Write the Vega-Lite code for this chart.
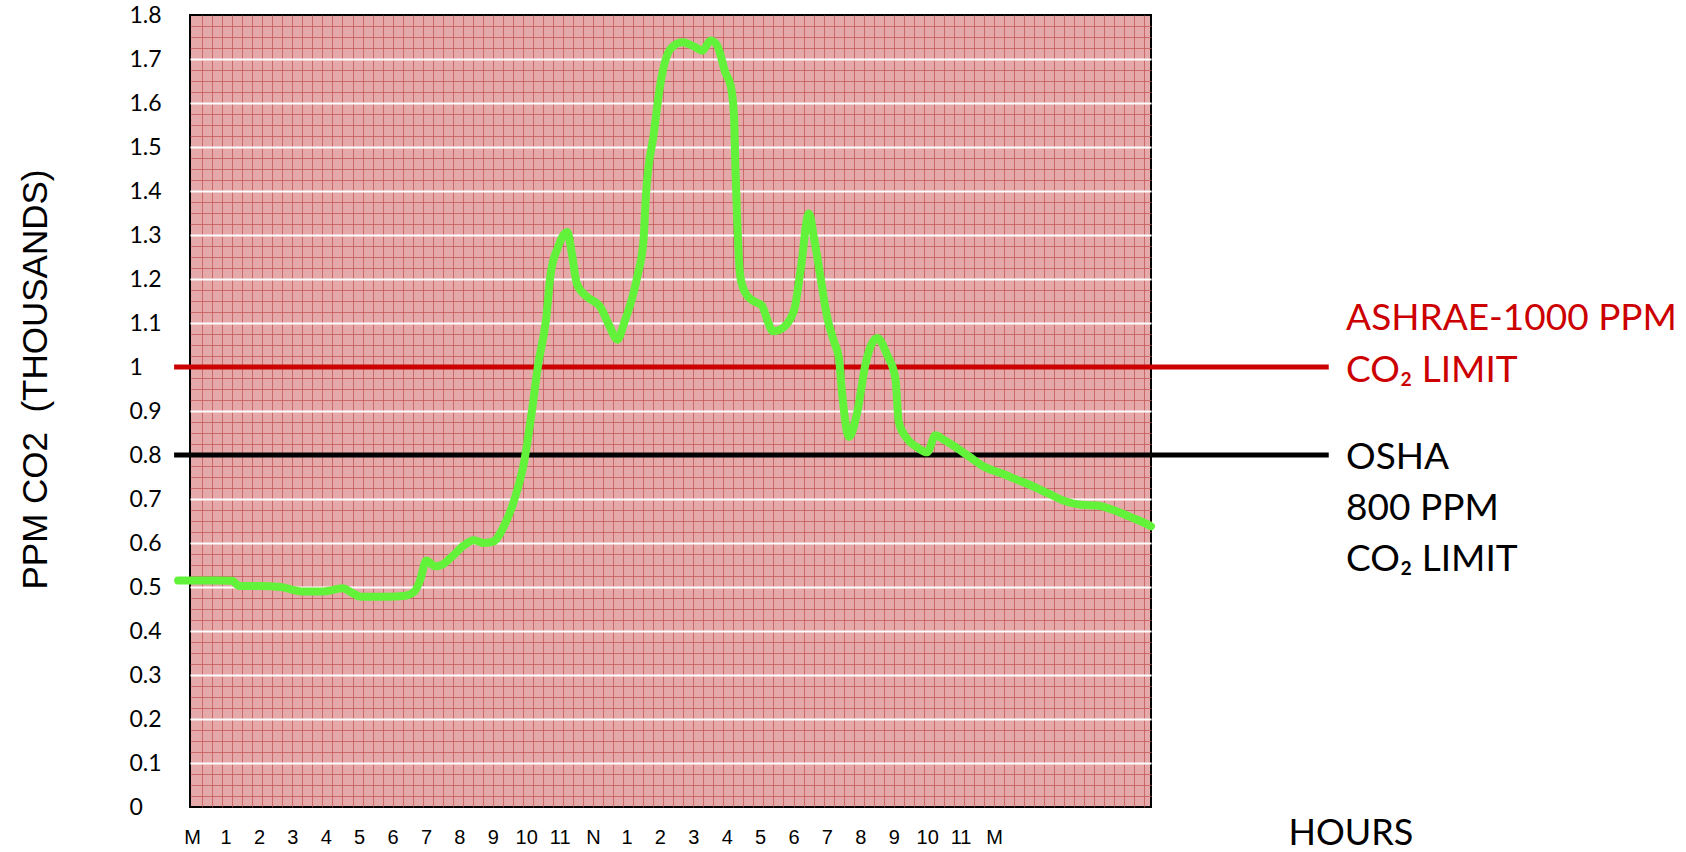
{
  "$schema": "https://vega.github.io/schema/vega-lite/v6.json",
  "autosize": {"type": "none"},
  "width": 961,
  "height": 792,
  "padding": {"left": 190, "top": 15, "right": 535, "bottom": 45},
  "background": "white",
  "config": {
    "view": {"fill": "#E5A9A9", "stroke": "#000000", "strokeWidth": 2},
    "font": "Lato"
  },
  "datasets": {
    "co2": [
      {"hour": -0.42, "ppm": 0.515}, {"hour": -0.06, "ppm": 0.515}, {"hour": 0.71, "ppm": 0.515},
      {"hour": 1.19, "ppm": 0.514}, {"hour": 1.42, "ppm": 0.502}, {"hour": 2.0, "ppm": 0.502},
      {"hour": 2.64, "ppm": 0.5}, {"hour": 3.28, "ppm": 0.49}, {"hour": 3.93, "ppm": 0.49},
      {"hour": 4.51, "ppm": 0.497}, {"hour": 4.76, "ppm": 0.488}, {"hour": 5.05, "ppm": 0.478},
      {"hour": 5.86, "ppm": 0.478}, {"hour": 6.37, "ppm": 0.48}, {"hour": 6.66, "ppm": 0.49},
      {"hour": 6.82, "ppm": 0.515}, {"hour": 7.01, "ppm": 0.56}, {"hour": 7.27, "ppm": 0.547},
      {"hour": 7.47, "ppm": 0.55}, {"hour": 7.79, "ppm": 0.57}, {"hour": 8.11, "ppm": 0.593},
      {"hour": 8.43, "ppm": 0.606}, {"hour": 8.75, "ppm": 0.6}, {"hour": 9.01, "ppm": 0.603},
      {"hour": 9.33, "ppm": 0.638}, {"hour": 9.65, "ppm": 0.7}, {"hour": 9.94, "ppm": 0.786},
      {"hour": 10.14, "ppm": 0.884}, {"hour": 10.36, "ppm": 1.007}, {"hour": 10.59, "ppm": 1.106},
      {"hour": 10.73, "ppm": 1.211}, {"hour": 10.94, "ppm": 1.27}, {"hour": 11.23, "ppm": 1.307},
      {"hour": 11.36, "ppm": 1.26}, {"hour": 11.52, "ppm": 1.188}, {"hour": 11.81, "ppm": 1.16},
      {"hour": 12.23, "ppm": 1.135}, {"hour": 12.48, "ppm": 1.095}, {"hour": 12.73, "ppm": 1.062},
      {"hour": 12.93, "ppm": 1.1}, {"hour": 13.32, "ppm": 1.204}, {"hour": 13.51, "ppm": 1.288},
      {"hour": 13.58, "ppm": 1.387}, {"hour": 13.82, "ppm": 1.532}, {"hour": 14.02, "ppm": 1.646},
      {"hour": 14.32, "ppm": 1.723}, {"hour": 14.67, "ppm": 1.738}, {"hour": 15.03, "ppm": 1.728},
      {"hour": 15.27, "ppm": 1.719}, {"hour": 15.52, "ppm": 1.742}, {"hour": 15.72, "ppm": 1.73},
      {"hour": 15.96, "ppm": 1.669}, {"hour": 16.12, "ppm": 1.639}, {"hour": 16.22, "ppm": 1.57},
      {"hour": 16.26, "ppm": 1.455}, {"hour": 16.31, "ppm": 1.341}, {"hour": 16.41, "ppm": 1.204},
      {"hour": 16.57, "ppm": 1.167}, {"hour": 16.8, "ppm": 1.15}, {"hour": 17.05, "ppm": 1.14},
      {"hour": 17.25, "ppm": 1.1}, {"hour": 17.38, "ppm": 1.081}, {"hour": 17.6, "ppm": 1.085},
      {"hour": 18.01, "ppm": 1.127}, {"hour": 18.21, "ppm": 1.219}, {"hour": 18.46, "ppm": 1.349},
      {"hour": 18.61, "ppm": 1.295}, {"hour": 18.81, "ppm": 1.203}, {"hour": 19.01, "ppm": 1.112},
      {"hour": 19.21, "ppm": 1.058}, {"hour": 19.36, "ppm": 1.02}, {"hour": 19.46, "ppm": 0.936},
      {"hour": 19.66, "ppm": 0.841}, {"hour": 19.91, "ppm": 0.898}, {"hour": 20.15, "ppm": 1.005},
      {"hour": 20.51, "ppm": 1.066}, {"hour": 20.8, "ppm": 1.028}, {"hour": 21.05, "ppm": 0.974},
      {"hour": 21.15, "ppm": 0.875}, {"hour": 21.4, "ppm": 0.837}, {"hour": 21.69, "ppm": 0.818},
      {"hour": 22.0, "ppm": 0.806}, {"hour": 22.25, "ppm": 0.845}, {"hour": 22.49, "ppm": 0.835},
      {"hour": 22.75, "ppm": 0.823}, {"hour": 23.23, "ppm": 0.798}, {"hour": 23.71, "ppm": 0.773},
      {"hour": 24.2, "ppm": 0.759}, {"hour": 24.68, "ppm": 0.744}, {"hour": 25.16, "ppm": 0.729},
      {"hour": 25.64, "ppm": 0.712}, {"hour": 26.13, "ppm": 0.695}, {"hour": 26.61, "ppm": 0.687},
      {"hour": 27.09, "ppm": 0.685}, {"hour": 27.57, "ppm": 0.675}, {"hour": 28.06, "ppm": 0.66},
      {"hour": 28.38, "ppm": 0.65}, {"hour": 28.7, "ppm": 0.638}
    ],
    "limits": [
      {"limit": "ASHRAE", "ppm": 1.0},
      {"limit": "OSHA", "ppm": 0.8}
    ],
    "notes": [
      {"label": "ASHRAE-1000 PPM", "ppm": 1.109, "limit": "ASHRAE"},
      {"label": "CO₂ LIMIT", "ppm": 0.991, "limit": "ASHRAE"},
      {"label": "OSHA", "ppm": 0.793, "limit": "OSHA"},
      {"label": "800 PPM", "ppm": 0.677, "limit": "OSHA"},
      {"label": "CO₂ LIMIT", "ppm": 0.561, "limit": "OSHA"}
    ]
  },
  "resolve": {"axis": {"x": "independent", "y": "independent"}},
  "layer": [
    {
      "data": {"name": "limits"},
      "mark": {"type": "rule", "strokeWidth": 5},
      "encoding": {
        "x": {
          "datum": -0.54,
          "type": "quantitative",
          "scale": {"domain": [-0.064, 28.7], "nice": false, "zero": false},
          "axis": {
            "orient": "top",
            "labels": false, "ticks": false, "domain": false, "title": null,
            "grid": true, "gridColor": "#C25656", "gridWidth": 1, "gridOpacity": 0.75,
            "values": [0.3,0.6,0.9,1.2,1.5,1.8,2.1,2.4,2.7,3.0,3.3,3.6,3.9,4.2,4.5,4.8,5.1,5.4,5.7,6.0,6.3,6.6,6.9,7.2,7.5,7.8,8.1,8.4,8.7,9.0,9.3,9.6,9.9,10.2,10.5,10.8,11.1,11.4,11.7,12.0,12.3,12.6,12.9,13.2,13.5,13.8,14.1,14.4,14.7,15.0,15.3,15.6,15.9,16.2,16.5,16.8,17.1,17.4,17.7,18.0,18.3,18.6,18.9,19.2,19.5,19.8,20.1,20.4,20.7,21.0,21.3,21.6,21.9,22.2,22.5,22.8,23.1,23.4,23.7,24.0,24.3,24.6,24.9,25.2,25.5,25.8,26.1,26.4,26.7,27.0,27.3,27.6,27.9,28.2,28.5]
          }
        },
        "x2": {"datum": 34.02},
        "y": {
          "field": "ppm",
          "type": "quantitative",
          "scale": {"domain": [0, 1.8], "nice": false, "zero": true},
          "axis": {
            "orient": "right",
            "labels": false, "ticks": false, "domain": false, "title": null,
            "grid": true, "gridColor": "#C25656", "gridWidth": 1, "gridOpacity": 0.75,
            "values": [0.025,0.05,0.075,0.1,0.125,0.15,0.175,0.2,0.225,0.25,0.275,0.3,0.325,0.35,0.375,0.4,0.425,0.45,0.475,0.5,0.525,0.55,0.575,0.6,0.625,0.65,0.675,0.7,0.725,0.75,0.775,0.8,0.825,0.85,0.875,0.9,0.925,0.95,0.975,1.0,1.025,1.05,1.075,1.1,1.125,1.15,1.175,1.2,1.225,1.25,1.275,1.3,1.325,1.35,1.375,1.4,1.425,1.45,1.475,1.5,1.525,1.55,1.575,1.6,1.625,1.65,1.675,1.7,1.725,1.75,1.775]
          }
        },
        "color": {
          "field": "limit",
          "type": "nominal",
          "scale": {"domain": ["ASHRAE", "OSHA"], "range": ["#CC0000", "#000000"]},
          "legend": null
        }
      }
    },
    {
      "data": {"name": "co2"},
      "mark": {"type": "line", "color": "#63F23A", "strokeWidth": 8, "strokeCap": "round", "strokeJoin": "round", "interpolate": "monotone"},
      "encoding": {
        "x": {
          "field": "hour",
          "type": "quantitative",
          "scale": {"domain": [-0.064, 28.7], "nice": false, "zero": false},
          "axis": {
            "orient": "bottom",
            "values": [0,1,2,3,4,5,6,7,8,9,10,11,12,13,14,15,16,17,18,19,20,21,22,23,24],
            "labelExpr": "datum.value == 0 || datum.value == 24 ? 'M' : datum.value == 12 ? 'N' : '' + (datum.value % 12)",
            "labelFont": "Liberation Sans",
            "labelFontSize": 20,
            "labelColor": "#000000",
            "labelPadding": 20,
            "labelFlush": false,
            "labelOverlap": false,
            "ticks": false,
            "tickSize": 0,
            "domain": false,
            "grid": false,
            "title": "HOURS",
            "titleFont": "Lato",
            "titleFontSize": 36,
            "titleFontWeight": "normal",
            "titleColor": "#000000",
            "titleX": 1098,
            "titleY": 26,
            "titleAlign": "left",
            "titleBaseline": "middle"
          }
        },
        "y": {
          "field": "ppm",
          "type": "quantitative",
          "scale": {"domain": [0, 1.8], "nice": false, "zero": true},
          "axis": {
            "orient": "left",
            "values": [0,0.1,0.2,0.3,0.4,0.5,0.6,0.7,0.8,0.9,1,1.1,1.2,1.3,1.4,1.5,1.6,1.7,1.8],
            "format": ".1~f",
            "labelFont": "Lato",
            "labelFontSize": 23,
            "labelColor": "#000000",
            "labelAlign": "left",
            "labelBaseline": "middle",
            "labelPadding": 61,
            "labelFlush": false,
            "labelOverlap": false,
            "ticks": false,
            "tickSize": 0,
            "domain": false,
            "grid": true,
            "gridColor": "#FFFFFF",
            "gridWidth": 2,
            "gridOpacity": {"condition": {"test": "datum.value <= 0 || datum.value >= 1.8", "value": 0}, "value": 1},
            "title": "PPM CO2 \u00a0(THOUSANDS)",
            "titleFont": "Liberation Sans",
            "titleFontSize": 35,
            "titleFontWeight": "normal",
            "titleColor": "#000000",
            "titleAngle": -90,
            "titleX": -155,
            "titleY": 364,
            "titleAlign": "center",
            "titleBaseline": "middle"
          }
        }
      }
    },
    {
      "data": {"name": "notes"},
      "mark": {"type": "text", "align": "left", "baseline": "middle", "font": "Lato", "fontSize": 37},
      "encoding": {
        "x": {"datum": 34.54, "type": "quantitative", "axis": null},
        "y": {"field": "ppm", "type": "quantitative", "axis": null},
        "text": {"field": "label"},
        "color": {"field": "limit", "type": "nominal", "legend": null}
      }
    }
  ]
}
